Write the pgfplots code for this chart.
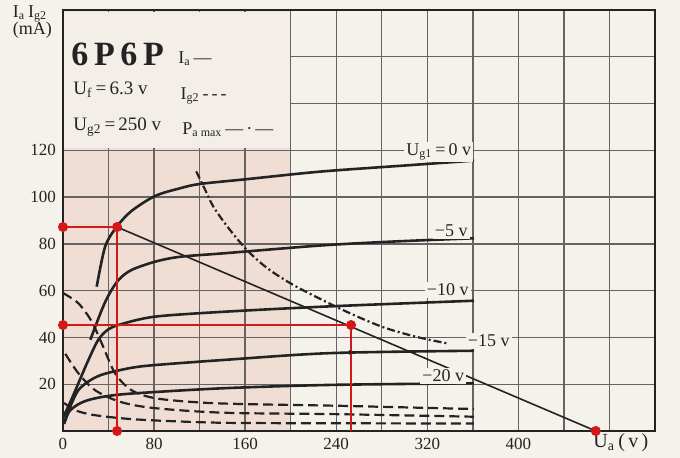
\documentclass[border=0pt]{standalone}
\usepackage{fontspec}
\setmainfont{Liberation Serif}
\usepackage{pgfplots}
\pgfplotsset{compat=1.18}
\definecolor{bg}{RGB}{245,242,236}
\definecolor{pinkbg}{RGB}{240,222,213}
\definecolor{boxbg}{RGB}{244,238,232}
\definecolor{gridc}{RGB}{100,100,100}
\definecolor{ink}{RGB}{35,35,35}
\definecolor{redl}{RGB}{210,25,25}
\begin{document}
\begin{tikzpicture}[x=1pt,y=1pt]
\fill[bg] (-31.5,-13.5) rectangle (308.5,215.5);
% pink shading of the left part of the plot area (0..200 V, 0..180 mA)
\fill[pinkbg] (0,0) rectangle (113.85,210.5);
\begin{axis}[
  scale only axis, width=296pt, height=210.5pt,
  xmin=0, xmax=520, ymin=0, ymax=180,
  xtick={0,40,...,520}, xticklabels={0,,80,,160,,240,,320,,400,,,},
  ytick={0,20,...,180}, yticklabels={,20,40,60,80,100,120,,,},
  major tick length=0pt,
  grid=major, grid style={gridc, line width=0.7pt},
  axis line style={ink, line width=1.1pt},
  tick label style={font=\fontsize{8.5}{9}\selectfont, text=ink},
  /pgf/number format/assume math mode=true,
  clip=false,
]
% legend box covering grid
\fill[boxbg] (axis cs:1.2,121) rectangle (axis cs:199,179.2);

% Ia curves (solid)
\addplot[ink, line width=1.3pt, smooth] coordinates {(29.6,61.7) (37,78.8) (47.2,87.3) (60,94) (81,100.5) (103,103.8) (120,105.6) (160,107.6) (226,110.9) (300,113.5) (361,115.6)};
\addplot[ink, line width=1.3pt, smooth] coordinates {(24,39) (34,51.7) (40,58) (48.6,64.5) (60,68.8) (81,72.4) (103,74.5) (142,76) (226,79.3) (290,81) (361,82.4)};
\addplot[ink, line width=1.3pt, smooth] coordinates {(0.3,6) (7,13) (13.5,20.4) (22,30) (31,39) (40,43.5) (52,45.8) (81,48.9) (142,51) (235,53.3) (361,55.7)};
\addplot[ink, line width=1.3pt, smooth] coordinates {(1,3.5) (6,10) (13.5,17.5) (25,22) (37,24.5) (60,27) (81,28.2) (142,30.4) (235,33.3) (361,34.3)};
\addplot[ink, line width=1.3pt, smooth] coordinates {(1,3) (5,8) (12,11) (22,13.2) (40,15) (66,16.2) (142,18.3) (235,19.7) (361,20.4)};

% Ig2 curves (dashed)
\addplot[ink, line width=1.1pt, smooth, dash pattern=on 5pt off 2.5pt] coordinates {(0,59) (13.5,54.6) (25,47) (34,37.5) (45.7,24.7) (60,17.5) (81,14) (120,12.2) (160,11.5) (240,10.8) (300,10.1) (361,9.4)};
\addplot[ink, line width=1.1pt, smooth, dash pattern=on 5pt off 2.5pt] coordinates {(2,33) (13.5,24.7) (28,17.5) (50,12.5) (80,9.8) (142,7.8) (240,7.2) (361,6.1)};
\addplot[ink, line width=1.1pt, smooth, dash pattern=on 5pt off 2.5pt] coordinates {(1,12) (10,9) (25,7) (50,5.5) (81,4.5) (142,3.5) (240,3.3) (361,3.2)};

% Pa max (dash-dot)
\addplot[ink, line width=1.1pt, smooth, dash pattern=on 4pt off 1.5pt on 1pt off 1.5pt] coordinates {(117,111) (125,103) (132,96) (145,87) (161.5,77.4) (180,69.4) (205,61.7) (246,51.7) (280,44.6) (310,40.3) (337,37.5)};

% load line
\addplot[ink, line width=0.8pt] coordinates {(47.5,87.2) (468,0)};

% red construction lines
\addplot[redl, line width=0.8pt] coordinates {(0,87.2) (47.5,87.2) (47.5,0)};
\addplot[redl, line width=0.8pt] coordinates {(0,45.3) (253,45.3) (253,0)};
\addplot[redl, only marks, mark=*, mark size=2.3pt] coordinates {(0,87.2) (47.5,87.2) (47.5,0) (0,45.3) (253,45.3) (468,0)};
\addplot[ink, only marks, mark=*, mark size=0.9pt] coordinates {(252,33.6)};

% curve labels
\begin{scope}[every node/.style={fill=bg, inner sep=1pt, text=ink, font=\fontsize{9}{10}\selectfont}]
\node at (axis cs:330,119.3) {U\textsubscript{g1}\,=\,0 v};
\node at (axis cs:341,85.5) {−5 v};
\node at (axis cs:338,60.3) {−10 v};
\node at (axis cs:374,38.5) {−15 v};
\node at (axis cs:334,23.5) {−20 v};
\end{scope}

% legend text
\node[anchor=west, text=ink, inner sep=0pt, font=\fontsize{17}{18}\bfseries] at (axis cs:7,161.2) {6\,P\,6\,P};
\node[anchor=west, text=ink, inner sep=0pt, font=\fontsize{9}{10}\selectfont] at (axis cs:101,159) {I\textsubscript{a}\,—};
\node[anchor=west, text=ink, inner sep=0pt, font=\fontsize{9.5}{10}\selectfont] at (axis cs:8.8,146) {U\textsubscript{f}\,=\,6.3 v};
\node[anchor=west, text=ink, inner sep=0pt, font=\fontsize{9}{10}\selectfont] at (axis cs:103,143.2) {I\textsubscript{g2}\,-\,-\,-};
\node[anchor=west, text=ink, inner sep=0pt, font=\fontsize{9.5}{10}\selectfont] at (axis cs:8.8,130) {U\textsubscript{g2}\,=\,250 v};
\node[anchor=west, text=ink, inner sep=0pt, font=\fontsize{9}{10}\selectfont] at (axis cs:104.6,129) {P\textsubscript{a max}\,—\,·\,—};

% axis titles
\node[text=ink, inner sep=0pt, font=\fontsize{9}{10}\selectfont] at (axis cs:-29,178.5) {I\textsubscript{a}\,I\textsubscript{g2}};
\node[text=ink, inner sep=0pt, font=\fontsize{9}{10}\selectfont] at (axis cs:-27,171.4) {(mA)};
\node[text=ink, inner sep=0pt, font=\fontsize{10}{11}\selectfont] at (axis cs:490,-4.8) {U\textsubscript{a}\,(\,v\,)};
\end{axis}
\pgfresetboundingbox
\path[use as bounding box] (-31.5,-13.5) rectangle (308.5,215.5);
\end{tikzpicture}
\end{document}
